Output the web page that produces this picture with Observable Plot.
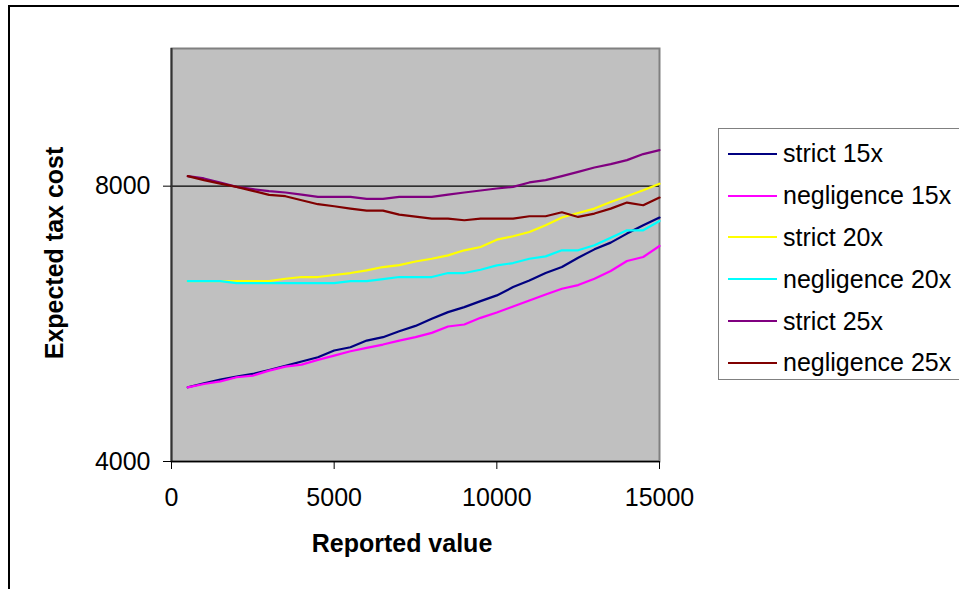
<!DOCTYPE html>
<html>
<head>
<meta charset="utf-8">
<script src="https://cdn.jsdelivr.net/npm/d3@7"></script>
<script src="https://cdn.jsdelivr.net/npm/@observablehq/plot@0.6"></script>
<style>
  html, body { margin: 0; padding: 0; background: #fff; overflow: hidden; }
  body { width: 959px; height: 589px; position: relative; font-family: "Liberation Sans", Arial, sans-serif; }
  #outer { position: absolute; left: 8px; top: 5px; width: 2000px; height: 2000px; border-top: 2px solid #000; border-left: 2px solid #000; }
  #chart { position: absolute; left: 0; top: 0; }
  .title { position: absolute; font-weight: bold; font-size: 25px; color: #000; white-space: nowrap; }
  #xtitle { left: 402px; top: 552px; transform: translate(-50%, -80%); }
  #ytitle { left: 54px; top: 253px; transform: translate(-50%, -50%) rotate(-90deg); }
  #legend { position: absolute; left: 718px; top: 128px; width: 400px; height: 252px; border: 1.5px solid #808080; box-sizing: border-box; background: #fff; padding-top: 4px; }
  .row { height: 41.8px; display: flex; align-items: center; font-size: 25px; color: #000; }
  .sw { width: 49px; height: 2px; margin-left: 9px; margin-right: 6px; }
</style>
</head>
<body>
<div id="outer"></div>
<div id="chart"></div>
<div class="title" id="xtitle">Reported value</div>
<div class="title" id="ytitle">Expected tax cost</div>
<div id="legend"></div>
<script>
const reported = [500,1000,1500,2000,2500,3000,3500,4000,4500,5000,5500,6000,6500,7000,7500,8000,8500,9000,9500,10000,10500,11000,11500,12000,12500,13000,13500,14000,14500,15000];

const seriesNames = ["strict 15x","negligence 15x","strict 20x","negligence 20x","strict 25x","negligence 25x"];
const seriesColors = ["#000080","#ff00ff","#ffff00","#00ffff","#800080","#800000"];

const strict15 = [5078,5136,5190,5233,5272,5330,5389,5452,5515,5612,5660,5757,5806,5893,5970,6073,6170,6243,6330,6413,6534,6631,6738,6825,6961,7082,7180,7311,7432,7544];
const negligence15 = [5078,5126,5165,5224,5248,5320,5379,5408,5476,5539,5602,5651,5699,5757,5806,5869,5961,5990,6087,6165,6252,6340,6427,6510,6563,6655,6767,6912,6971,7131];
const strict20 = [6621,6621,6621,6621,6621,6621,6655,6680,6680,6709,6738,6777,6825,6854,6905,6946,6995,7068,7116,7223,7272,7335,7432,7544,7611,7674,7771,7854,7941,8035];
const negligence20 = [6621,6621,6621,6592,6592,6592,6592,6592,6592,6592,6621,6621,6650,6680,6680,6680,6738,6738,6786,6849,6883,6946,6980,7068,7068,7141,7252,7359,7359,7495];
const strict25 = [8145,8112,8054,7990,7956,7927,7908,7878,7844,7844,7844,7815,7815,7844,7844,7844,7878,7908,7937,7966,7990,8054,8087,8145,8208,8271,8320,8378,8466,8524];
const negligence25 = [8145,8087,8038,7990,7932,7873,7854,7796,7738,7708,7674,7645,7645,7587,7558,7529,7529,7505,7529,7529,7529,7563,7563,7621,7553,7602,7674,7762,7723,7835];

const xTicks = [0,5000,10000,15000];
const yTicks = [4000,8000];

const seriesValues = [strict15, negligence15, strict20, negligence20, strict25, negligence25];
const data = seriesNames.flatMap((name, i) => reported.map((x, j) => ({series: name, x, v: seriesValues[i][j]})));

const plot = Plot.plot({
  width: 959,
  height: 589,
  marginLeft: 171,
  marginRight: 300,
  marginTop: 48,
  marginBottom: 128,
  style: { fontFamily: "'Liberation Sans', Arial, sans-serif", fontSize: "25px", color: "#000", background: "transparent", overflow: "visible" },
  x: { domain: [0, 15000] },
  y: { domain: [4000, 10000] },
  color: { domain: seriesNames, range: seriesColors },
  marks: [
    Plot.frame({ fill: "#c0c0c0", stroke: "#808080", strokeWidth: 2 }),
    Plot.ruleY([8000], { stroke: "#000", strokeWidth: 1.3 }),
    Plot.ruleX([0], { stroke: "#333", strokeWidth: 2 }),
    Plot.ruleY([4000], { stroke: "#000", strokeWidth: 1.5 }),
    Plot.line(data, { x: "x", y: "v", z: "series", stroke: "series", strokeWidth: 2.2 }),
    Plot.axisX({ ticks: xTicks, tickSize: 8, tickPadding: 19, label: null, tickFormat: d3.format("d"), fontSize: 25, stroke: "#000" }),
    Plot.axisY({ ticks: yTicks, tickSize: 8, tickPadding: 13, label: null, tickFormat: d3.format("d"), fontSize: 25, stroke: "#000" })
  ]
});
document.getElementById("chart").appendChild(plot);

const legend = document.getElementById("legend");
seriesNames.forEach((name, i) => {
  const row = document.createElement("div");
  row.className = "row";
  const sw = document.createElement("div");
  sw.className = "sw";
  sw.style.background = seriesColors[i];
  const label = document.createElement("span");
  label.textContent = name;
  row.appendChild(sw);
  row.appendChild(label);
  legend.appendChild(row);
});
</script>
</body>
</html>
